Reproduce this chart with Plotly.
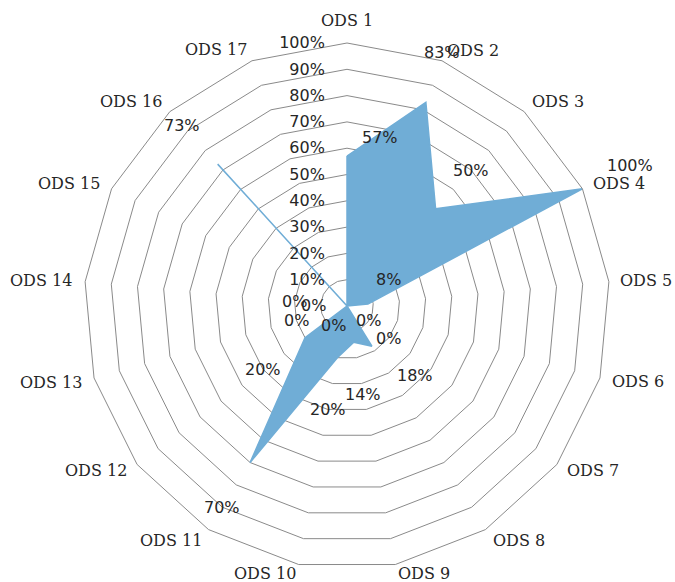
import math
import plotly.graph_objects as go

# Share of each SDG (ODS) covered
categories = [f"ODS {i}" for i in range(1, 18)]
values = [57, 83, 50, 100, 8, 0, 0, 18, 14, 20, 70, 20, 0, 0, 0, 73, 0]
value_labels = [f"{v}%" for v in values]
tick_values = [10, 20, 30, 40, 50, 60, 70, 80, 90, 100]
tick_labels = [f"{t}%" for t in tick_values]

n = len(categories)
step = 360.0 / n

# value labels: default radial offset beyond each point, a few hand-placed spots
LABEL_DR = 20
label_nudge = {  # index -> (radial offset, angular offset in degrees)
    0: (8.4, 11.0),
    1: (20, -0.7),
    4: (10.7, -28.1),
    5: (9.8, 17.1),
    7: (18.8, -12.8),
    14: (9.0, -81.8),
    16: (12.7, -67.9),
}

# category label placement around the outer ring: (radius, angular offset)
cat_place = [
    (108.7, 0.0), (108.6, 5.1), (111.8, 3.4), (113.5, 2.2), (114.1, 0.3),
    (114.1, -1.4), (112.4, -3.4), (110.5, -4.6), (105.6, -5.4), (106.1, 6.4),
    (111.4, 5.2), (114.1, 4.0), (116.0, 1.5), (116.6, -0.4), (115.6, -2.6),
    (113.3, -4.2), (109.5, -5.8),
]
TEXT_DY = -0.15  # optical centring of text on its anchor


def to_xy(r, deg):
    """Polar (clockwise from top) to the overlay's cartesian units."""
    a = math.radians(deg)
    return r * math.sin(a), r * math.cos(a) + TEXT_DY


fill_col = "#70add6"
grid_col = "#8a8a8a"
text_col = "#262626"

cx, cy, R = 347, 306, 263
W, H = 675, 582
dom_x = [(cx - R) / W, (cx + R) / W]
dom_y = [1 - (cy + R) / H, 1 - (cy - R) / H]
unit = R / 100.0  # pixels per percentage point

fig = go.Figure()
fig.add_trace(go.Scatterpolar(
    r=values + values[:1],
    theta=categories + categories[:1],
    mode="lines",
    fill="toself",
    fillcolor=fill_col,
    line=dict(color=fill_col, width=1.5),
    hoverinfo="skip",
))
# invisible anchor for the overlay axes that carry the text annotations
fig.add_trace(go.Scatter(x=[0], y=[0], mode="markers",
                         marker=dict(opacity=0), hoverinfo="skip"))

annotations = []
for i, v in enumerate(values):
    dr, dt = label_nudge.get(i, (LABEL_DR, 0.0))
    x, y = to_xy(v + dr, i * step + dt)
    annotations.append(dict(
        x=x, y=y, xref="x", yref="y", text=value_labels[i], showarrow=False,
        xanchor="center", yanchor="middle",
        font=dict(family="DejaVu Sans", size=16, color=text_col),
    ))
for i, (r, dt) in enumerate(cat_place):
    x, y = to_xy(r, i * step + dt)
    annotations.append(dict(
        x=x, y=y, xref="x", yref="y", text=categories[i], showarrow=False,
        xanchor="center", yanchor="middle",
        font=dict(family="DejaVu Serif", size=16, color=text_col),
    ))

fig.update_layout(
    width=W, height=H,
    margin=dict(l=0, r=0, t=0, b=0),
    paper_bgcolor="white",
    plot_bgcolor="rgba(0,0,0,0)",
    showlegend=False,
    xaxis=dict(domain=[0, 1], range=[-cx / unit, (W - cx) / unit],
               visible=False, fixedrange=True),
    yaxis=dict(domain=[0, 1], range=[-(H - cy) / unit, cy / unit],
               visible=False, fixedrange=True),
    annotations=annotations,
    polar=dict(
        domain=dict(x=dom_x, y=dom_y),
        bgcolor="rgba(0,0,0,0)",
        gridshape="linear",
        radialaxis=dict(
            range=[0, 100], tickvals=tick_values, ticktext=tick_labels,
            showline=False, showgrid=True, gridcolor=grid_col, gridwidth=1,
            angle=90, side="counterclockwise",
            ticks="outside", ticklen=16, tickcolor="rgba(0,0,0,0)",
            tickfont=dict(family="DejaVu Sans", size=16, color=text_col),
            tickangle=90,
        ),
        angularaxis=dict(
            type="category", categoryarray=categories,
            rotation=90, direction="clockwise",
            showgrid=False, showline=True, linecolor=grid_col, linewidth=1,
            ticks="", showticklabels=False,
        ),
    ),
)

fig.write_html("out.html")
